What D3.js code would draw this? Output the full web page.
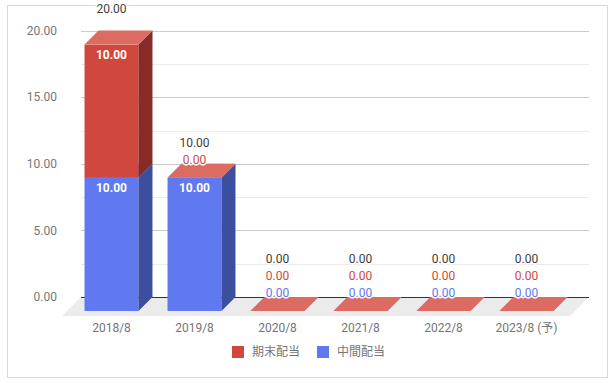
<!DOCTYPE html>
<html lang="ja">
<head>
<meta charset="UTF-8">
<script src="https://d3js.org/d3.v7.min.js"></script>
<title>配当推移</title>
<style>
  body { margin: 0; background: #fff; }
  svg text { font-family: Roboto, "Noto Sans CJK JP", sans-serif; }
</style>
</head>
<body>
<div id="chart"></div>
<script>
// data
const categories = ["2018/8", "2019/8", "2020/8", "2021/8", "2022/8", "2023/8 (予)"];
const interim = [10, 10, 0, 0, 0, 0];   // 中間配当
const yearEnd = [10, 0, 0, 0, 0, 0];    // 期末配当
const yTicks = [0, 5, 10, 15, 20];
const seriesNames = ["期末配当", "中間配当"];

const W = 614, H = 383;
const depth = 14;      // bar depth offset
const floorDepth = 19;

const svg = d3.select("#chart").append("svg")
  .attr("width", W).attr("height", H);

// outer border
svg.append("rect")
  .attr("x", 7.5).attr("y", 5.5).attr("width", 600).attr("height", 372)
  .attr("fill", "#fff").attr("stroke", "#d9d9d9");

// scales (front plane)
const x = d3.scaleBand().domain(categories).range([70, 568])
  .paddingInner(0.35).paddingOuter(0.175);
const y = d3.scaleLinear().domain([0, 20]).range([311, 44.6]);

const backLeft = 81, backRight = 589;

// minor + major gridlines on back wall
const grid = svg.append("g");
d3.range(0, 20.01, 2.5).forEach(v => {
  const major = v % 5 === 0;
  grid.append("line")
    .attr("x1", backLeft).attr("x2", backRight)
    .attr("y1", Math.round(y(v) - depth) + 0.5).attr("y2", Math.round(y(v) - depth) + 0.5)
    .attr("stroke", major ? "#cccccc" : "#ebebeb");
});

// y axis labels
svg.append("g").selectAll("text").data(yTicks).join("text")
  .attr("x", 57).attr("y", d => y(d) - depth)
  .attr("dy", "0.35em").attr("text-anchor", "end")
  .attr("font-size", 12).attr("fill", "#757575")
  .text(d => d.toFixed(2));

// floor
const y0b = y(0) - depth;
svg.append("path")
  .attr("d", `M${backLeft},${y0b}L${backRight},${y0b}L${backRight - floorDepth},${y0b + floorDepth}L${backLeft - floorDepth},${y0b + floorDepth}Z`)
  .attr("fill", "#ebebeb");

// baseline
svg.append("line")
  .attr("x1", backLeft).attr("x2", backRight)
  .attr("y1", Math.round(y0b) + 0.5).attr("y2", Math.round(y0b) + 0.5)
  .attr("stroke", "#333");

// series: drawn bottom to top
const series = [
  { name: "中間配当", values: interim, front: "#6078f0", side: "#3c4f9f", top: "#8a9cf4", label: "#5f78f0" },
  { name: "期末配当", values: yearEnd, front: "#cf473d", side: "#872b27", top: "#dc6b61", label: "#d0473d" }
];

const bars = svg.append("g");
const bw = x.bandwidth();
categories.forEach((c, i) => {
  let base = 0;
  const x0 = x(c);
  series.forEach(s => {
    const v = s.values[i];
    const yb = y(base), yt = y(base + v);
    // front
    bars.append("rect").attr("x", x0).attr("y", yt)
      .attr("width", bw).attr("height", yb - yt).attr("fill", s.front);
    // side
    bars.append("path")
      .attr("d", `M${x0 + bw},${yb}L${x0 + bw},${yt}L${x0 + bw + depth},${yt - depth}L${x0 + bw + depth},${yb - depth}Z`)
      .attr("fill", s.side);
    // top
    bars.append("path")
      .attr("d", `M${x0},${yt}L${x0 + bw},${yt}L${x0 + bw + depth},${yt - depth}L${x0 + depth},${yt - depth}Z`)
      .attr("fill", s.top);
    base += v;
  });
});

// annotations
const ann = svg.append("g");
categories.forEach((c, i) => {
  const cx = x(c) + bw / 2;
  let base = 0;
  let slot = 0;
  const total = interim[i] + yearEnd[i];
  const frontTop = y(total);
  series.forEach(s => {
    const v = s.values[i];
    if (v > 0) {
      ann.append("text")
        .attr("x", cx).attr("y", y(base + v) + 10).attr("dy", "0.35em")
        .attr("text-anchor", "middle").attr("font-size", 12).attr("font-weight", "bold")
        .attr("fill", "#fff").text(v.toFixed(2));
    } else {
      slot++;
      ann.append("text")
        .attr("x", cx).attr("y", frontTop - 1.5 - 17 * slot).attr("dy", "0.35em")
        .attr("text-anchor", "middle").attr("font-size", 12)
        .attr("fill", s.label)
        .attr("stroke", "#fff").attr("stroke-width", 3).attr("paint-order", "stroke")
        .text(v.toFixed(2));
    }
    base += v;
  });
  const totalSlot = Math.max(2, slot + 1);
  ann.append("text")
    .attr("x", cx).attr("y", frontTop - 1.5 - 17 * totalSlot).attr("dy", "0.35em")
    .attr("text-anchor", "middle").attr("font-size", 12)
    .attr("fill", "#404040")
    .attr("stroke", "#fff").attr("stroke-width", 3).attr("paint-order", "stroke")
    .text(total.toFixed(2));
});

// x axis labels
svg.append("g").selectAll("text").data(categories).join("text")
  .attr("x", d => x(d) + bw / 2).attr("y", 328).attr("dy", "0.35em")
  .attr("text-anchor", "middle").attr("font-size", 12).attr("fill", "#757575")
  .text(d => d);

// legend
const legendColors = { "期末配当": "#cf473d", "中間配当": "#6078f0" };
const legend = svg.append("g");
let lx = 232;
seriesNames.forEach(n => {
  legend.append("rect").attr("x", lx).attr("y", 346).attr("width", 12).attr("height", 12)
    .attr("fill", legendColors[n]);
  const t = legend.append("text").attr("x", lx + 20).attr("y", 352).attr("dy", "0.35em")
    .attr("font-size", 12).attr("fill", "#757575").text(n);
  lx += 20 + t.node().getComputedTextLength() + 17;
});
</script>
</body>
</html>
